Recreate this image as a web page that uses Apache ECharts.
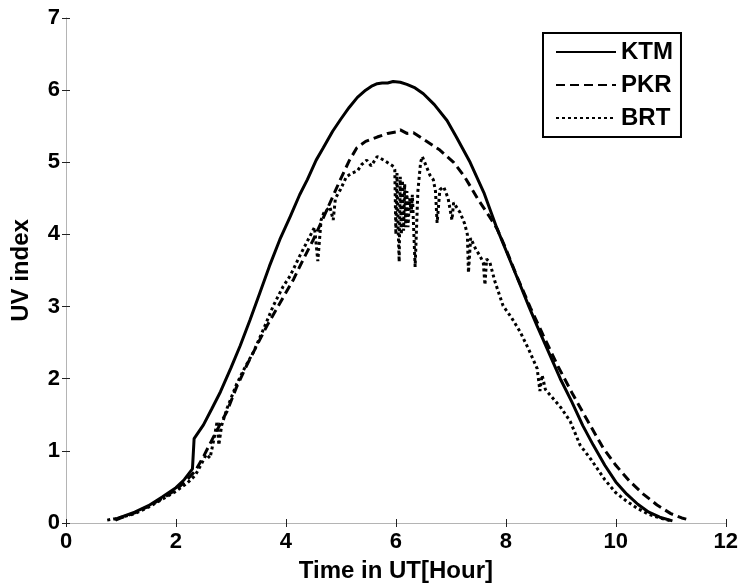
<!DOCTYPE html>
<html>
<head>
<meta charset="utf-8">
<script src="https://cdn.jsdelivr.net/npm/echarts@6/dist/echarts.min.js"></script>
<style>
  html, body { margin: 0; padding: 0; background: #fff; }
  #main { width: 741px; height: 588px; }
</style>
</head>
<body>
<div id="main"></div>
<script>
// KTM (solid)
var ktmTime = [0.88, 1.0, 1.25, 1.5, 1.75, 2.0, 2.15, 2.3, 2.33, 2.5, 2.65, 2.81, 3.0, 3.17, 3.35, 3.53, 3.7, 3.89,
  4.08, 4.25, 4.39, 4.55, 4.68, 4.85, 5.0, 5.15, 5.3, 5.45, 5.57, 5.66, 5.75, 5.85, 5.95, 6.08, 6.2, 6.35, 6.5,
  6.7, 6.93, 7.1, 7.35, 7.6, 7.84, 8.05, 8.25, 8.42, 8.57, 8.8, 8.99, 9.2, 9.4, 9.59, 9.8, 10.0, 10.2, 10.4,
  10.6, 10.8, 11.03];
var ktmUV = [0.05, 0.08, 0.15, 0.24, 0.36, 0.49, 0.6, 0.75, 1.17, 1.36, 1.58, 1.82, 2.15, 2.46, 2.82, 3.2, 3.56, 3.93,
  4.25, 4.55, 4.76, 5.03, 5.2, 5.43, 5.6, 5.76, 5.9, 6.0, 6.06, 6.09, 6.1, 6.1, 6.12, 6.11, 6.08, 6.03, 5.95,
  5.8, 5.58, 5.35, 5.0, 4.58, 4.08, 3.69, 3.32, 3.0, 2.73, 2.33, 2.0, 1.68, 1.35, 1.08, 0.8, 0.57, 0.4, 0.26,
  0.15, 0.08, 0.03];

// PKR (dashed)
var pkrTime = [0.9, 1.0, 1.25, 1.5, 1.75, 2.0, 2.2, 2.35, 2.5, 2.7, 2.93, 3.1, 3.29, 3.47, 3.66, 3.9, 4.14, 4.32,
  4.5, 4.75, 4.99, 5.15, 5.29, 5.45, 5.66, 5.85, 6.0, 6.08, 6.2, 6.32, 6.5, 6.8, 7.05, 7.25, 7.5, 7.7, 7.84,
  8.0, 8.2, 8.45, 8.68, 8.95, 9.22, 9.5, 9.77, 10.0, 10.25, 10.5, 10.75, 11.0, 11.2, 11.35];
var pkrUV = [0.04, 0.07, 0.14, 0.23, 0.34, 0.46, 0.6, 0.72, 0.92, 1.22, 1.55, 1.88, 2.19, 2.46, 2.74, 3.06, 3.38, 3.66,
  3.93, 4.35, 4.76, 5.02, 5.2, 5.29, 5.35, 5.4, 5.42, 5.45, 5.4, 5.41, 5.32, 5.17, 5.0, 4.8, 4.48, 4.25, 4.08,
  3.8, 3.42, 2.98, 2.6, 2.17, 1.78, 1.4, 1.04, 0.8, 0.58, 0.4, 0.25, 0.13, 0.07, 0.04];

// BRT (dotted)
var brtTime = [0.75, 0.9, 1.0, 1.25, 1.5, 1.75, 2.0, 2.2, 2.35, 2.45, 2.55, 2.62, 2.7, 2.75, 2.78, 2.83, 2.93, 3.1,
  3.25, 3.41, 3.6, 3.77, 3.95, 4.08, 4.25, 4.44, 4.52, 4.58, 4.64, 4.69, 4.8, 4.86, 4.9, 4.99, 5.1, 5.2, 5.3,
  5.38, 5.47, 5.55, 5.66, 5.78, 5.88, 5.96, 5.98, 6.0, 6.02, 6.04, 6.06, 6.08, 6.1, 6.12, 6.14, 6.16, 6.18,
  6.2, 6.22, 6.25, 6.28, 6.3, 6.35, 6.4, 6.45, 6.48, 6.55, 6.62, 6.68, 6.72, 6.75, 6.8, 6.87, 6.95, 7.02,
  7.05, 7.17, 7.25, 7.3, 7.32, 7.36, 7.45, 7.53, 7.59, 7.62, 7.65, 7.71, 7.8, 7.95, 8.1, 8.26, 8.42, 8.57,
  8.62, 8.66, 8.72, 8.81, 9.0, 9.17, 9.35, 9.55, 9.8, 10.0, 10.2, 10.4, 10.6, 10.8, 11.0];
var brtUV = [0.04, 0.06, 0.08, 0.13, 0.22, 0.33, 0.44, 0.55, 0.66, 0.8, 0.95, 0.9, 1.2, 1.41, 1.08, 1.35, 1.59, 1.92,
  2.15, 2.37, 2.7, 3.01, 3.28, 3.43, 3.7, 3.98, 4.1, 3.63, 4.2, 4.3, 4.38, 4.2, 4.5, 4.62, 4.8, 4.85, 4.88,
  4.97, 5.03, 4.95, 5.08, 5.03, 4.98, 4.94, 4.9, 4.0, 4.85, 4.1, 3.62, 4.8, 4.0, 4.75, 4.05, 4.7, 4.1,
  4.6, 4.1, 4.5, 4.3, 4.55, 3.55, 4.6, 5.0, 5.08, 4.95, 4.82, 4.76, 4.6, 4.16, 4.62, 4.66, 4.5, 4.2,
  4.44, 4.3, 4.15, 4.0, 3.47, 3.95, 3.8, 3.7, 3.61, 3.3, 3.66, 3.61, 3.35, 3.01, 2.85, 2.65, 2.4, 2.14,
  1.83, 2.05, 1.85, 1.77, 1.6, 1.41, 1.08, 0.88, 0.6, 0.42, 0.3, 0.2, 0.12, 0.07, 0.03];

var xTicks = [0, 2, 4, 6, 8, 10, 12];
var yTicks = [0, 1, 2, 3, 4, 5, 6, 7];

function pairs(ts, vs) {
  var out = [];
  for (var i = 0; i < ts.length; i++) out.push([ts[i], vs[i]]);
  return out;
}

var FONT = '"Liberation Sans", Arial, sans-serif';
var chart = echarts.init(document.getElementById('main'));

var tickStyle = { show: true, inside: true, length: 4, lineStyle: { color: '#222', width: 1 } };
var lineAx = { show: true, lineStyle: { color: '#b4b4b4', width: 1 } };
var lblStyle = { color: '#000', fontSize: 22, fontWeight: 'bold', fontFamily: FONT };

function mkSeries(name, ts, vs, dash) {
  return {
    name: name,
    type: 'line',
    data: pairs(ts, vs),
    color: '#000',
    showSymbol: false,
    symbol: 'none',
    animation: false,
    lineStyle: { color: '#000', width: 3, type: dash, cap: 'butt' }
  };
}

chart.setOption({
  backgroundColor: '#fff',
  animation: false,
  grid: { left: 66, right: 15, top: 18, bottom: 62 },
  legend: {
    data: ['KTM', 'PKR', 'BRT'],
    orient: 'vertical',
    left: 543,
    top: 33,
    padding: [7, 8, 7, 12],
    itemGap: 9,
    itemWidth: 60,
    itemHeight: 14,
    borderColor: '#000',
    borderWidth: 2,
    backgroundColor: '#fff',
    itemStyle: { opacity: 0 },
    textStyle: { color: '#000', fontSize: 24, fontWeight: 'bold', fontFamily: FONT }
  },
  xAxis: [
    {
      type: 'value', min: xTicks[0], max: xTicks[xTicks.length - 1], interval: 2,
      name: 'Time in UT[Hour]', nameLocation: 'middle', nameGap: 36,
      nameTextStyle: { color: '#000', fontSize: 24, fontWeight: 'bold', fontFamily: FONT },
      axisLine: lineAx, axisTick: tickStyle, splitLine: { show: false },
      axisLabel: Object.assign({ margin: 8 }, lblStyle)
    },
    {
      type: 'value', position: 'top', min: 0, max: 12, interval: 2,
      axisLine: lineAx, axisTick: tickStyle, splitLine: { show: false }, axisLabel: { show: false }
    }
  ],
  yAxis: [
    {
      type: 'value', min: yTicks[0], max: yTicks[yTicks.length - 1], interval: 1,
      name: 'UV index', nameLocation: 'middle', nameGap: 33,
      nameTextStyle: { color: '#000', fontSize: 24, fontWeight: 'bold', fontFamily: FONT },
      axisLine: lineAx, axisTick: tickStyle, splitLine: { show: false },
      axisLabel: Object.assign({ margin: 6 }, lblStyle)
    },
    {
      type: 'value', position: 'right', min: 0, max: 7, interval: 1,
      axisLine: lineAx, axisTick: tickStyle, splitLine: { show: false }, axisLabel: { show: false }
    }
  ],
  series: [
    mkSeries('KTM', ktmTime, ktmUV, 'solid'),
    mkSeries('PKR', pkrTime, pkrUV, [9, 5]),
    mkSeries('BRT', brtTime, brtUV, [3, 3])
  ]
});
</script>
</body>
</html>
